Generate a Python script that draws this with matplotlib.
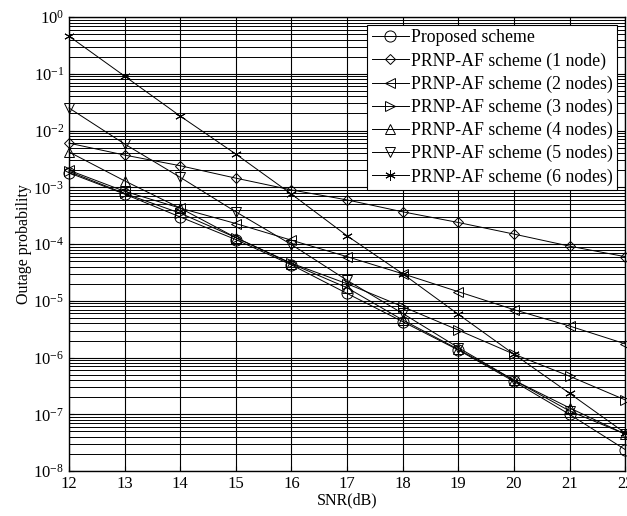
import numpy as np
import matplotlib
matplotlib.use('Agg')
import matplotlib.pyplot as plt
from matplotlib.ticker import LogLocator, NullFormatter

plt.rcParams['font.family'] = ['Liberation Serif', 'DejaVu Serif']
plt.rcParams['mathtext.fontset'] = 'stix'

snr = [12, 13, 14, 15, 16, 17, 18, 19, 20, 21, 22]
proposed = [1.8e-3, 7.6e-4, 3.0e-4, 1.2e-4, 4.3e-5, 1.35e-5, 4.3e-6, 1.36e-6, 3.8e-7, 1.0e-7, 2.4e-8]
node1 = [6.0e-3, 3.7e-3, 2.4e-3, 1.45e-3, 9.0e-4, 6.0e-4, 3.7e-4, 2.4e-4, 1.5e-4, 9.2e-5, 6.0e-5]
node2 = [2.0e-3, 8.5e-4, 4.3e-4, 2.3e-4, 1.17e-4, 6.0e-5, 3.0e-5, 1.45e-5, 7.0e-6, 3.6e-6, 1.75e-6]
node3 = [1.9e-3, 7.8e-4, 3.5e-4, 1.3e-4, 4.6e-5, 2.0e-5, 7.9e-6, 3.05e-6, 1.15e-6, 4.7e-7, 1.8e-7]
node4 = [4.2e-3, 1.3e-3, 4.3e-4, 1.3e-4, 4.5e-5, 1.7e-5, 4.6e-6, 1.4e-6, 4.0e-7, 1.3e-7, 4.5e-8]
node5 = [2.5e-2, 5.8e-3, 1.5e-3, 3.7e-4, 9.8e-5, 2.3e-5, 6.0e-6, 1.5e-6, 4.0e-7, 1.15e-7, 4.5e-8]
node6 = [0.46, 0.091, 0.018, 3.85e-3, 7.6e-4, 1.4e-4, 3.0e-5, 5.8e-6, 1.15e-6, 2.35e-7, 4.7e-8]

series = [
    (proposed, 'o', 'Proposed scheme'),
    (node1, 'D', 'PRNP-AF scheme (1 node)'),
    (node2, '<', 'PRNP-AF scheme (2 nodes)'),
    (node3, '>', 'PRNP-AF scheme (3 nodes)'),
    (node4, '^', 'PRNP-AF scheme (4 nodes)'),
    (node5, 'v', 'PRNP-AF scheme (5 nodes)'),
    (node6, (6, 2, 0), 'PRNP-AF scheme (6 nodes)'),
]

fig = plt.figure(figsize=(6.27, 5.16), dpi=100)
ax = fig.add_axes([0.110, 0.087, 0.887, 0.880])

for vals, mk, lab in series:
    ms = 7.5
    if mk == 'D':
        ms = 5.5
    elif mk == 'o':
        ms = 8
    ax.plot(snr, vals, color='black', lw=0.7, marker=mk, markersize=ms,
            markerfacecolor='none', markeredgecolor='black', markeredgewidth=0.7,
            label=lab, clip_on=False, zorder=3)

ax.set_yscale('log')
ax.set_xlim(12, 22)
ax.set_ylim(1e-8, 1)
ax.set_xticks(snr)
ax.yaxis.set_major_locator(LogLocator(base=10, numticks=20))
ax.yaxis.set_minor_locator(LogLocator(base=10, subs=np.arange(2, 10), numticks=20))
ax.yaxis.set_minor_formatter(NullFormatter())

ax.grid(True, which='major', color='black', lw=0.8, ls='-')
ax.grid(True, which='minor', axis='y', color='black', lw=0.7, ls='-')
ax.tick_params(direction='in', labelsize=12, which='both')
for sp in ax.spines.values():
    sp.set_linewidth(1.0)

ax.set_xlabel('SNR(dB)', fontsize=11.5, labelpad=0)
ax.set_ylabel('Outage probability', fontsize=11.5, labelpad=1)

leg = ax.legend(loc='upper right', fontsize=12.8, handlelength=2.1, handletextpad=0.1,
                labelspacing=0.33, borderpad=0.25, borderaxespad=0.45,
                fancybox=False, framealpha=1, edgecolor='black')
leg.get_frame().set_linewidth(0.8)

fig.savefig('out.png', dpi=100)
